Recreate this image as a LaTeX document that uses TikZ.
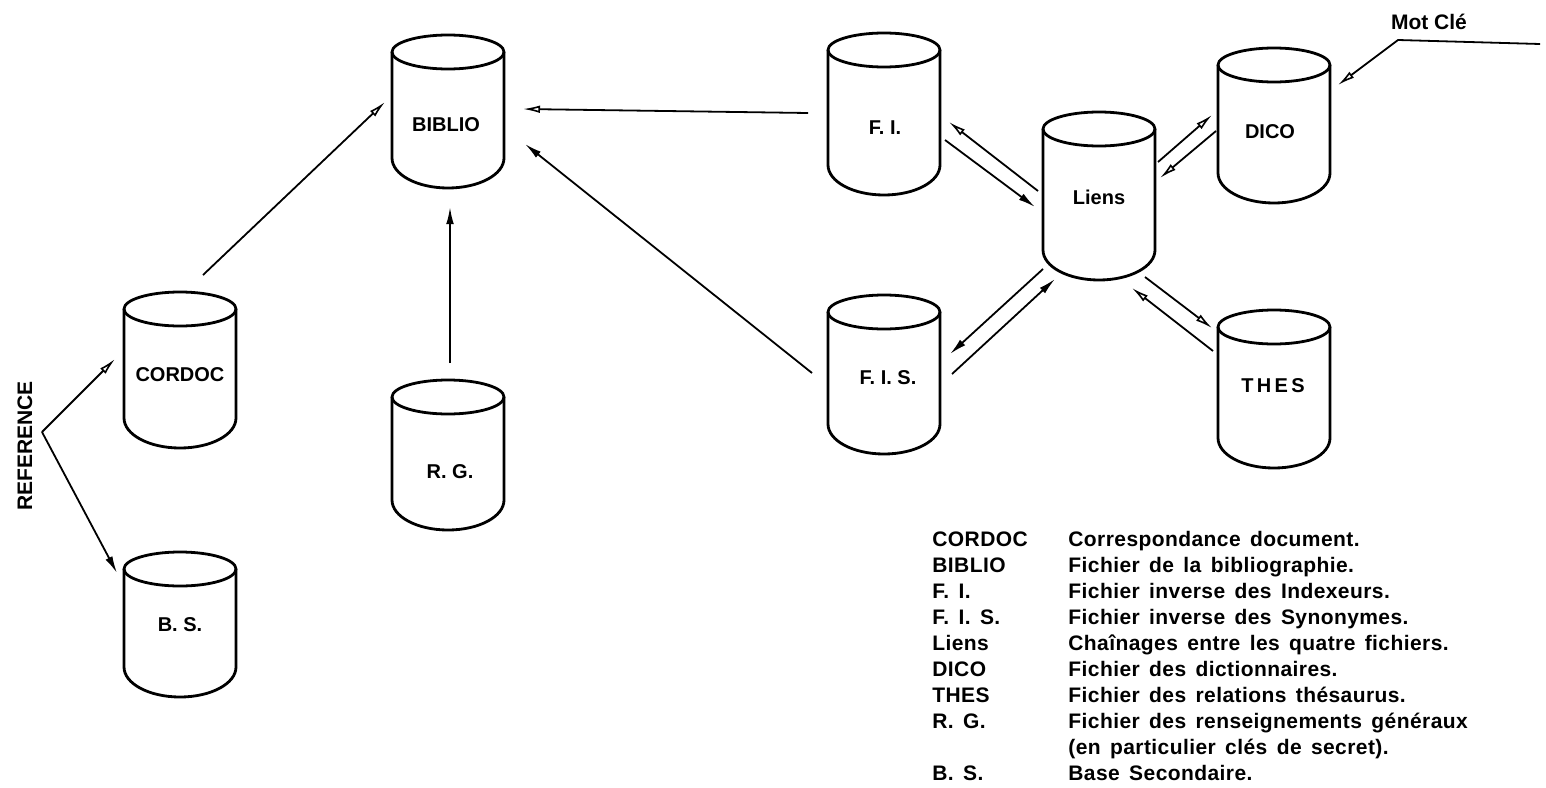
\documentclass[tikz,border=0pt]{standalone}
\usepackage{fontspec}
\setmainfont{Liberation Sans}
\newfontfamily\legfont{Liberation Sans}[WordSpace=1.5, LetterSpace=2]
\usetikzlibrary{arrows.meta,calc}
\tikzset{
  cylbox/.style={draw=none, minimum width=56pt, inner sep=0pt},
  cylline/.style={line width=1.4pt},
  conn/.style={line width=0.9pt},
  openhead/.style={conn, -{Latex[open, length=8.5pt, width=3.8pt, line width=0.8pt]}},
  fullhead/.style={conn, -{Latex[length=8.5pt, width=3.8pt]}},
  lbl/.style={font=\bfseries\fontsize{10}{11}\selectfont, inner sep=0pt},
  leg/.style={font=\legfont\bfseries\fontsize{10.5}{12}\selectfont, anchor=base west, inner sep=0pt},
}
% name, cx, top, bottom (pixel units, y downward)
\newcommand\mkcyl[4]{%
  \node[cylbox, minimum height={(#4-#3)*0.5pt}] (#1) at (#2,{(#3+#4)/2}) {};
  \draw[cylline] (#2,#3+17) ellipse [x radius=56, y radius=17];
  \draw[cylline] (#2-56,#3+17) -- (#2-56,#4-30)
     .. controls (#2-56,#4-13.4) and (#2-31,#4) .. (#2,#4)
     .. controls (#2+31,#4) and (#2+56,#4-13.4) .. (#2+56,#4-30)
     -- (#2+56,#3+17);
}
\begin{document}
\begin{tikzpicture}[x=0.5pt, y=-0.5pt]
\useasboundingbox (0,0) rectangle (1546,787);

% cylinders
\mkcyl{biblio}{448}{35}{188}
\mkcyl{cordoc}{180}{292}{448}
\mkcyl{bs}{180}{552}{697}
\mkcyl{rg}{448}{380}{530}
\mkcyl{fi}{884}{33}{195}
\mkcyl{fis}{884}{295}{454}
\mkcyl{liens}{1099}{112}{280}
\mkcyl{dico}{1274}{48}{203}
\mkcyl{thes}{1274}{310}{468}

% cylinder labels
\node[lbl] (biblio-l) at (446,125) {BIBLIO};
\node[lbl] (cordoc-l) at (180,375) {CORDOC};
\node[lbl] (bs-l) at (180,625) {B. S.};
\node[lbl] (rg-l) at (450,472) {R. G.};
\node[lbl] (fi-l) at (885,128) {F. I.};
\node[lbl] (fis-l) at (888,378) {F. I. S.};
\node[lbl] (liens-l) at (1099,197) {Liens};
\node[lbl] (dico-l) at (1270,132) {DICO};
\node[lbl] (thes-l) at (1273,386) {T\,H\,E\,S};

% free labels
\node[lbl, font=\bfseries\fontsize{10.5}{11}\selectfont, rotate=90] (ref-l) at (25,446) {REFERENCE};
\node[lbl, font=\bfseries\fontsize{10.5}{11}\selectfont] (motcle) at (1429,22) {Mot Clé};
\coordinate (ref) at (42,432);
\coordinate (mc-start) at (1540,44);
\coordinate (mc-bend) at (1398,40);

% connectors to BIBLIO
\draw[openhead] ($(cordoc)+(23,-95)$) -- ($(biblio)+(-63,-9.5)$);
\draw[fullhead] ($(rg)+(2,-92)$) -- ($(biblio)+(2,95.5)$);
\draw[openhead] ($(fi)+(-76,-1)$) -- ($(biblio)+(75,-2.5)$);
\draw[fullhead] ($(fis)+(-72,-1.5)$) -- ($(biblio)+(77,32.5)$);

% F.I. <-> Liens
\draw[openhead] ($(liens)+(-61,-5)$) -- ($(fi)+(65,8)$);
\draw[fullhead] ($(fi)+(61,26)$) -- ($(liens)+(-64,11)$);
% F.I.S. <-> Liens
\draw[fullhead] ($(liens)+(-56,73)$) -- ($(fis)+(66,-20.5)$);
\draw[fullhead] ($(fis)+(68,-0.5)$) -- ($(liens)+(-44,83)$);
% DICO <-> Liens
\draw[openhead] ($(liens)+(59,-34)$) -- ($(dico)+(-62,-10.5)$);
\draw[openhead] ($(dico)+(-58,5.5)$) -- ($(liens)+(61,-18)$);
% THES <-> Liens
\draw[openhead] ($(liens)+(46,81)$) -- ($(thes)+(-62,-61)$);
\draw[openhead] ($(thes)+(-61,-38)$) -- ($(liens)+(33,92)$);

% Mot Cle
\draw[openhead] (mc-start) -- (mc-bend) -- ($(dico)+(64,-40.5)$);

% REFERENCE
\draw[openhead] (ref) -- ($(cordoc)+(-65,-11)$);
\draw[fullhead] (ref) -- ($(bs)+(-63,-51.5)$);

% legend
\foreach \k/\a/\d in {
  0/CORDOC/Correspondance document.,
  1/BIBLIO/Fichier de la bibliographie.,
  2/F. I./Fichier inverse des Indexeurs.,
  3/F. I. S./Fichier inverse des Synonymes.,
  4/Liens/Chaînages entre les quatre fichiers.,
  5/DICO/Fichier des dictionnaires.,
  6/THES/Fichier des relations thésaurus.,
  7/R. G./Fichier des renseignements généraux,
  8//(en particulier clés de secret).,
  9/B. S./Base Secondaire.}{
  \node[leg] (leg-a-\k) at (932,{546+26*\k}) {\a};
  \node[leg] (leg-d-\k) at (1068,{546+26*\k}) {\d};
}
\end{tikzpicture}
\end{document}
